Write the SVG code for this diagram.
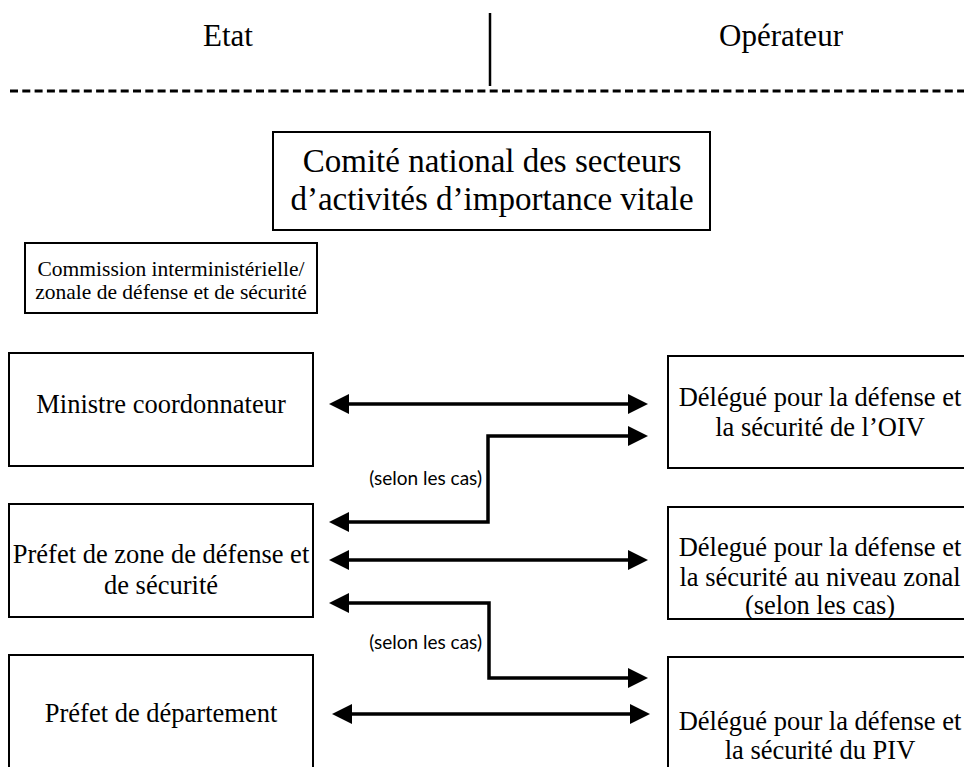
<svg xmlns="http://www.w3.org/2000/svg" width="964" height="767" viewBox="0 0 964 767">
<defs>
<style>
.box{fill:#fff;stroke:#000;stroke-width:2}
.t{font-family:"Liberation Serif","Times New Roman",serif;fill:#000;text-anchor:middle}
.m{font-size:26.5px}
.s{font-family:Lato,"Liberation Sans",sans-serif;font-size:19px;fill:#000;text-anchor:end}
.c{fill:none;stroke:#000;stroke-width:3.5}
</style>
<marker id="ah" viewBox="0 -10 20 20" refX="0" refY="0" markerWidth="20" markerHeight="20" markerUnits="userSpaceOnUse" orient="auto-start-reverse">
<path d="M0,-10 L20,0 L0,10 z" fill="#000"/>
</marker>
</defs>
<rect width="964" height="767" fill="#fff"/>
<g id="header">
<text class="t" x="228" y="46" font-size="31">Etat</text>
<text class="t" x="781" y="46" font-size="31">Opérateur</text>
<line x1="490" y1="13" x2="490" y2="86" stroke="#000" stroke-width="2.5"/>
<line x1="10" y1="91" x2="964" y2="91" stroke="#000" stroke-width="3" stroke-dasharray="8 4.3"/>
</g>
<g id="comite">
<rect class="box" x="273" y="132" width="437" height="98"/>
<text class="t" x="492" y="172" font-size="33">Comité national des secteurs</text>
<text class="t" x="492" y="210" font-size="33">d’activités d’importance vitale</text>
</g>
<g id="commission">
<rect class="box" x="25" y="243" width="292" height="70"/>
<text class="t" x="171" y="276" font-size="21.5">Commission interministérielle/</text>
<text class="t" x="171" y="299" font-size="21.5">zonale de défense et de sécurité</text>
</g>
<g id="ministre">
<rect class="box" x="9" y="353" width="304" height="113"/>
<text class="t m" x="161" y="413">Ministre coordonnateur</text>
</g>
<g id="prefet-zone">
<rect class="box" x="9" y="504" width="304" height="113"/>
<text class="t m" x="161" y="563">Préfet de zone de défense et</text>
<text class="t m" x="161" y="594">de sécurité</text>
</g>
<g id="prefet-dep">
<rect class="box" x="9" y="655" width="304" height="120"/>
<text class="t m" x="161" y="722">Préfet de département</text>
</g>
<g id="delegue-oiv">
<rect class="box" x="668" y="356" width="310" height="112"/>
<text class="t m" x="820" y="406">Délégué pour la défense et</text>
<text class="t m" x="820" y="436">la sécurité de l’OIV</text>
</g>
<g id="delegue-zonal">
<rect class="box" x="668" y="507" width="310" height="112"/>
<text class="t m" x="820" y="556">Délegué pour la défense et</text>
<text class="t m" x="820" y="586">la sécurité au niveau zonal</text>
<text class="t m" x="820" y="614">(selon les cas)</text>
</g>
<g id="delegue-piv">
<rect class="box" x="668" y="657" width="310" height="120"/>
<text class="t m" x="820" y="730">Délégué pour la défense et</text>
<text class="t m" x="820" y="759">la sécurité du PIV</text>
</g>
<g id="connectors">
<path class="c" d="M349,404 H628" marker-start="url(#ah)" marker-end="url(#ah)"/>
<path class="c" d="M628,436 H488 V522 H349" marker-start="url(#ah)" marker-end="url(#ah)"/>
<path class="c" d="M349,560 H628" marker-start="url(#ah)" marker-end="url(#ah)"/>
<path class="c" d="M349,603 H489 V678 H628" marker-start="url(#ah)" marker-end="url(#ah)"/>
<path class="c" d="M352,714 H630" marker-start="url(#ah)" marker-end="url(#ah)"/>
<text class="s" x="482" y="485">(selon les cas)</text>
<text class="s" x="482" y="649">(selon les cas)</text>
</g>
</svg>
